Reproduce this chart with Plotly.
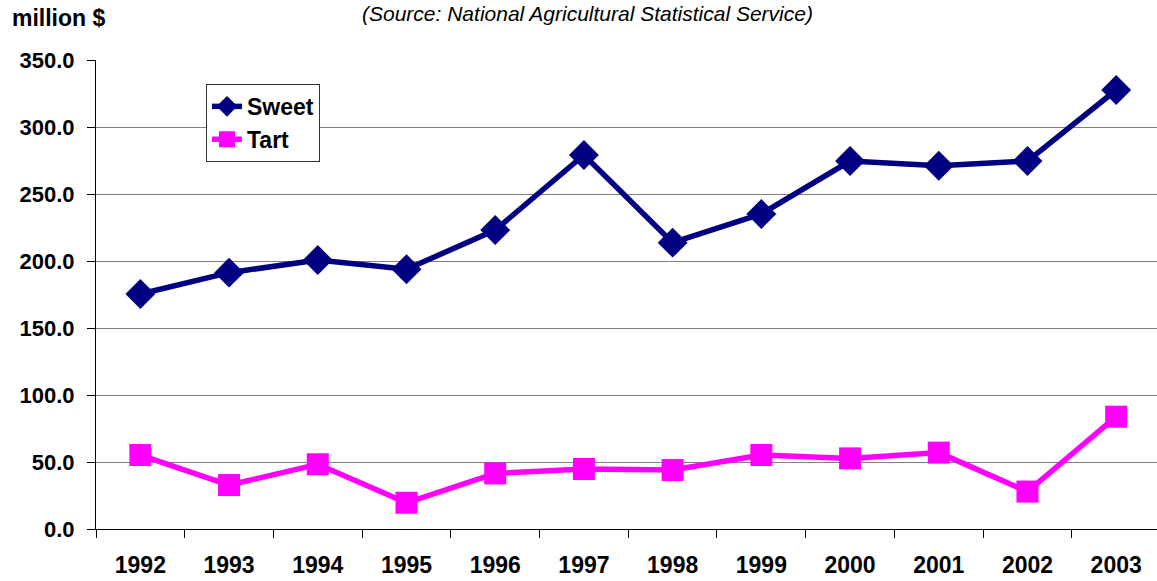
import plotly.graph_objects as go

years = ["1992", "1993", "1994", "1995", "1996", "1997", "1998", "1999", "2000", "2001", "2002", "2003"]
sweet = [175.4, 191.3, 200.7, 193.8, 223.1, 279.1, 213.7, 235.1, 274.6, 271.1, 274.6, 327.6]
tart = [55.2, 32.8, 48.3, 19.6, 41.5, 44.8, 44.0, 55.2, 52.7, 57.0, 27.9, 83.8]
y_ticks = [0, 50, 100, 150, 200, 250, 300, 350]

FONT = "Liberation Sans, Arial, sans-serif"

fig = go.Figure()
fig.add_trace(go.Scatter(
    x=years, y=sweet, name="Sweet", mode="lines+markers",
    line=dict(color="#000080", width=5.5),
    marker=dict(symbol="diamond", size=23, color="#000080"),
))
fig.add_trace(go.Scatter(
    x=years, y=tart, name="Tart", mode="lines+markers",
    line=dict(color="#FF00FF", width=5.5),
    marker=dict(symbol="square", size=22, color="#FF00FF"),
))

fig.update_layout(
    width=1157, height=581,
    margin=dict(l=96, r=0, t=60, b=52),
    paper_bgcolor="white", plot_bgcolor="white",
    font=dict(family=FONT, color="black"),
    showlegend=True,
    legend=dict(
        x=0.1037, y=0.949, xanchor="left", yanchor="top",
        bordercolor="#333333", borderwidth=1, bgcolor="white",
        font=dict(family=FONT, size=23, weight="bold", color="black"),
        itemwidth=30, tracegroupgap=0,
        entrywidth=95, entrywidthmode="pixels",
    ),
    xaxis=dict(
        type="category", range=[-0.5, 11.46],
        showgrid=False, showline=True, linecolor="black", linewidth=1,
        ticks="outside", ticklen=8, tickcolor="black", tickson="boundaries",
        tickfont=dict(family=FONT, size=23, weight="bold"),
        ticklabelstandoff=15, zeroline=False,
    ),
    yaxis=dict(
        range=[0, 350], tickvals=y_ticks, tickformat=".1f",
        showgrid=True, gridcolor="#808080", gridwidth=1,
        showline=True, linecolor="black", linewidth=1,
        ticks="outside", ticklen=8, tickcolor="black",
        tickfont=dict(family=FONT, size=22, weight="bold"),
        ticklabelstandoff=8, zeroline=False,
    ),
    annotations=[
        dict(text="million $", xref="paper", yref="paper",
             x=-0.081, y=1.0896, xanchor="left", yanchor="middle",
             showarrow=False, font=dict(family=FONT, size=23, weight="bold")),
        dict(text="(Source: National Agricultural Statistical Service)",
             xref="paper", yref="paper", x=0.4628, y=1.100,
             xanchor="center", yanchor="middle", showarrow=False,
             font=dict(family=FONT, size=21, style="italic")),
    ],
)

fig.write_html("out.html")
